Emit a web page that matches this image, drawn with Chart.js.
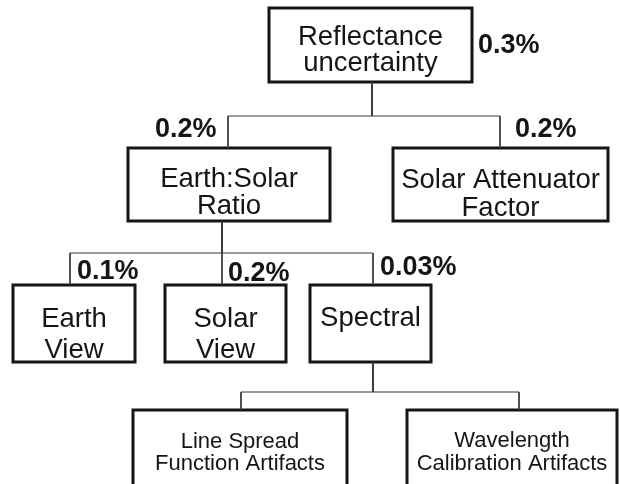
<!DOCTYPE html>
<html>
<head>
<meta charset="utf-8">
<script src="https://cdn.jsdelivr.net/npm/chart.js@4/dist/chart.umd.min.js"></script>
<style>
  html, body { margin: 0; padding: 0; background: #fff; }
  canvas { display: block; }
</style>
</head>
<body>
<canvas id="tree" width="620" height="484"></canvas>
<script>
// nodes of the uncertainty tree
const nodeText = [
    ['Reflectance', 'uncertainty'],
    ['Earth:Solar', 'Ratio'],
    ['Solar Attenuator', 'Factor'],
    ['Earth', 'View'],
    ['Solar', 'View'],
    ['Spectral'],
    ['Line Spread', 'Function Artifacts'],
    ['Wavelength', 'Calibration Artifacts']
];
const nodeParent = [-1, 0, 0, 1, 1, 1, 5, 5];
const nodeUncertainty = ['0.3%', '0.2%', '0.2%', '0.1%', '0.2%', '0.03%', '', ''];

// layout of the diagram, in canvas units
const boxLeft = [269, 128, 393, 13, 165, 310, 133, 407];
const boxRight = [472, 330, 608, 135, 286, 431, 347, 617];
const boxTop = [8, 148, 148, 285, 285, 285, 410, 410];
const boxBottom = [82, 221, 221, 362, 362, 362, 490, 490];
const stemX = [372, 228, 500, 70, 222, 373, 241, 519];
const parentStemX = [372, 222, 0, 0, 0, 373, 0, 0];
const branchY = [116, 253, 0, 0, 0, 392, 0, 0];
const textBaselines = [[45, 71], [187, 214], [188, 216], [327, 358], [327, 358], [326], [448, 470], [447, 470]];
const textSize = [27.5, 27.5, 27.5, 27.5, 27.5, 27.5, 22, 22];
const labelX = [478, 155, 515, 77, 228, 380, 0, 0];
const labelY = [53, 137, 137, 279, 281, 275, 0, 0];

function boxDataset(i) {
    return {
        data: [
            { x: boxLeft[i], y: boxTop[i] },
            { x: boxRight[i], y: boxTop[i] },
            { x: boxRight[i], y: boxBottom[i] },
            { x: boxLeft[i], y: boxBottom[i] },
            { x: boxLeft[i], y: boxTop[i] }
        ],
        showLine: true,
        borderColor: '#151515',
        borderWidth: 3,
        borderJoinStyle: 'miter',
        borderCapStyle: 'square',
        pointRadius: 0,
        fill: false
    };
}

function connectorDatasets() {
    const sets = [];
    nodeParent.forEach((p, i) => {
        if (p < 0) return;
        sets.push({
            data: [
                { x: parentStemX[p], y: boxBottom[p] },
                { x: parentStemX[p], y: branchY[p] },
                { x: stemX[i], y: branchY[p] },
                { x: stemX[i], y: boxTop[i] }
            ],
            showLine: true,
            borderColor: '#3a3a3a',
            borderWidth: 1,
            pointRadius: 0,
            fill: false
        });
    });
    return sets;
}

const textPlugin = {
    id: 'treeText',
    afterDatasetsDraw(chart) {
        const ctx = chart.ctx;
        const xs = chart.scales.x;
        const ys = chart.scales.y;
        ctx.save();
        ctx.fillStyle = '#151515';
        ctx.textBaseline = 'alphabetic';
        nodeText.forEach((lines, i) => {
            ctx.font = textSize[i] + 'px "Liberation Sans", Arial, sans-serif';
            ctx.textAlign = 'center';
            const cx = xs.getPixelForValue((boxLeft[i] + boxRight[i]) / 2);
            lines.forEach((line, k) => {
                ctx.fillText(line, cx, ys.getPixelForValue(textBaselines[i][k]));
            });
            if (nodeUncertainty[i]) {
                ctx.font = 'bold 27px "Liberation Sans", Arial, sans-serif';
                ctx.textAlign = 'left';
                ctx.fillText(nodeUncertainty[i], xs.getPixelForValue(labelX[i]), ys.getPixelForValue(labelY[i]));
            }
        });
        ctx.restore();
    }
};

new Chart(document.getElementById('tree').getContext('2d'), {
    type: 'scatter',
    data: {
        datasets: [...connectorDatasets(), ...nodeText.map((t, i) => boxDataset(i))]
    },
    options: {
        responsive: false,
        animation: false,
        layout: { padding: 0 },
        scales: {
            x: { type: 'linear', min: 0, max: 620, display: false },
            y: { type: 'linear', min: 0, max: 484, reverse: true, display: false }
        },
        plugins: {
            legend: { display: false },
            tooltip: { enabled: false }
        }
    },
    plugins: [textPlugin]
});
</script>
</body>
</html>
